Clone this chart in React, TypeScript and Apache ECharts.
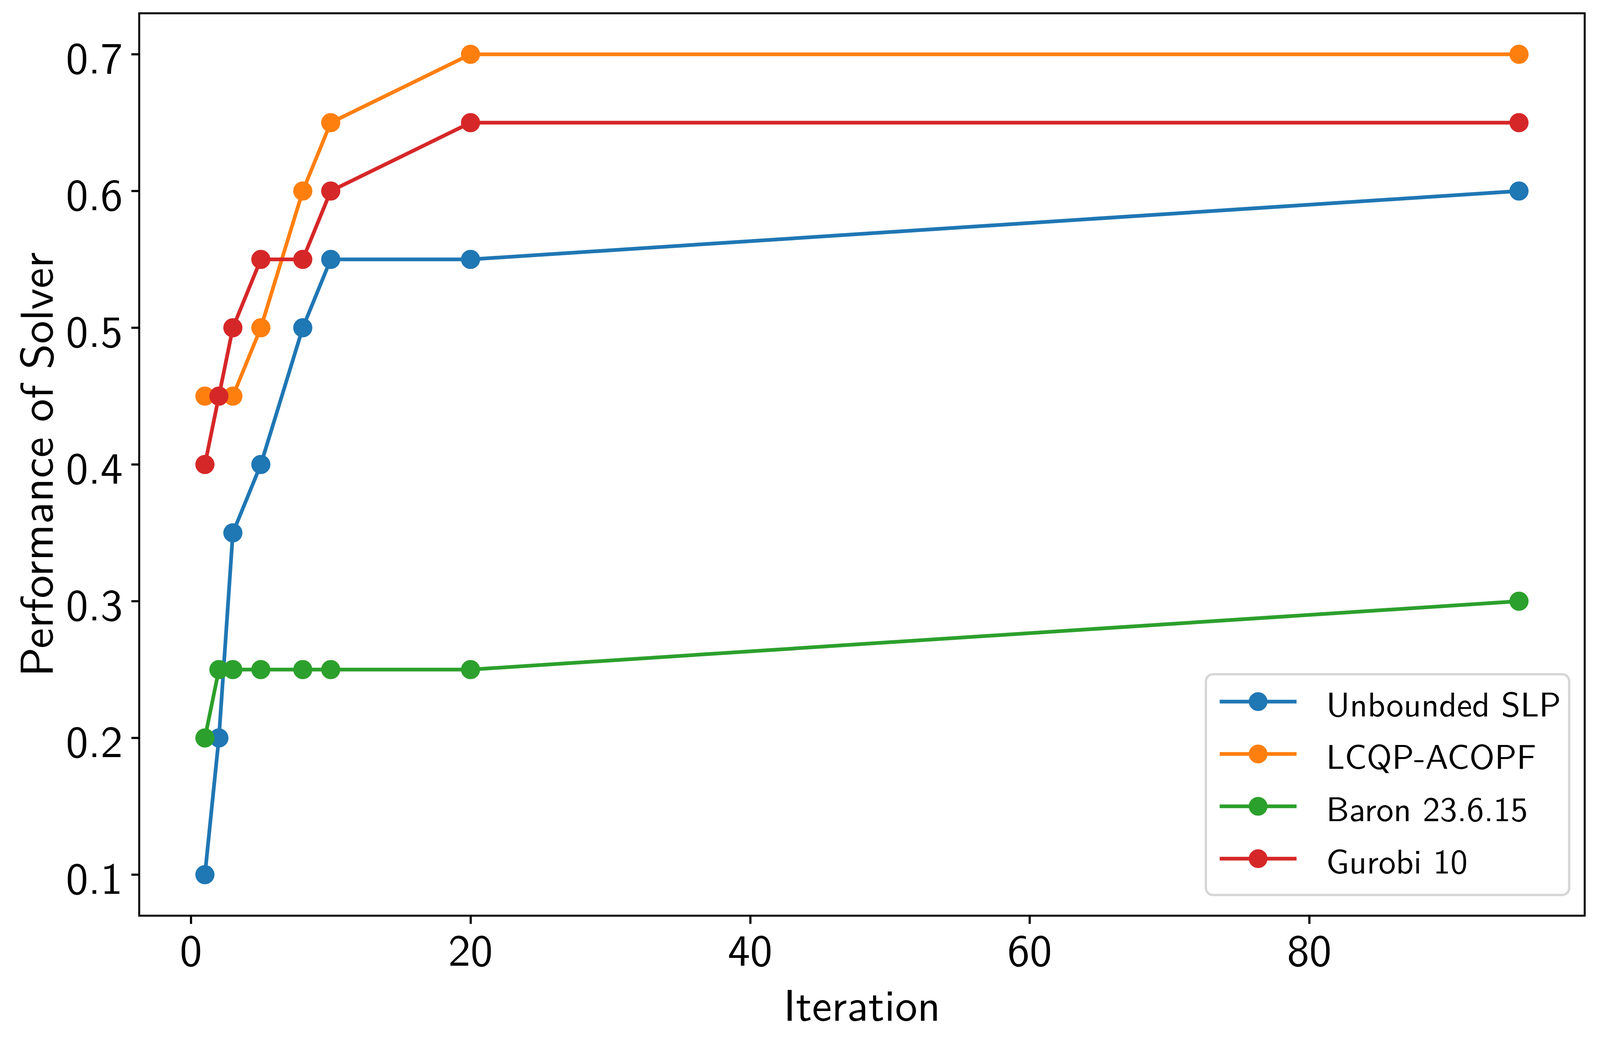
import React, { useEffect, useRef } from "react";
import * as echarts from "echarts";

const iterations = [1, 2, 3, 5, 8, 10, 20, 95];
const seriesNames = ["Unbounded SLP", "LCQP-ACOPF", "Baron 23.6.15", "Gurobi 10"];
const unboundedSLP = [0.1, 0.2, 0.35, 0.4, 0.5, 0.55, 0.55, 0.6];
const lcqpAcopf = [0.45, 0.45, 0.45, 0.5, 0.6, 0.65, 0.7, 0.7];
const baron = [0.2, 0.25, 0.25, 0.25, 0.25, 0.25, 0.25, 0.3];
const gurobi = [0.4, 0.45, 0.5, 0.55, 0.55, 0.6, 0.65, 0.65];
const seriesValues = [unboundedSLP, lcqpAcopf, baron, gurobi];
const colors = ["#1f77b4", "#ff7f0e", "#2ca02c", "#d62728"];
const xTicks = [0, 20, 40, 60, 80];
const yTicks = [0.1, 0.2, 0.3, 0.4, 0.5, 0.6, 0.7];
const xLabel = "Iteration";
const yLabel = "Performance of Solver";

const FONT = "'Latin Modern Sans', 'Liberation Sans', sans-serif";
const REF_W = 4287;
const REF_H = 2675;

export default function App() {
  const ref = useRef<HTMLDivElement>(null);
  useEffect(() => {
    const el = ref.current;
    if (!el) return;
    const W = el.clientWidth || REF_W;
    const H = el.clientHeight || REF_H;
    const sx = W / REF_W;
    const sy = H / REF_H;
    const chart = echarts.init(el, undefined, { renderer: "svg" });
    const tickFont = 114;
    const yNameFont = 118;
    const legendFont = 88;
    const option = {
      animation: false,
      backgroundColor: "#ffffff",
      textStyle: { fontFamily: FONT },
      grid: {
        left: 373 * sx,
        right: 41 * sx,
        top: 34 * sy,
        bottom: 331 * sy,
        show: true,
        borderColor: "#000000",
        borderWidth: 5,
        backgroundColor: "transparent",
        containLabel: false,
      },
      xAxis: {
        type: "value",
        min: -3.7,
        max: 99.7,
        axisLine: { show: false, onZero: false },
        splitLine: { show: false },
        axisTick: {
          show: true,
          customValues: xTicks,
          length: 21 * sy,
          lineStyle: { color: "#000", width: 5.5 },
        },
        axisLabel: {
          customValues: xTicks,
          fontSize: tickFont,
          color: "#000",
          margin: 22 * sy,
          fontFamily: FONT,
        },
        name: xLabel,
        nameLocation: "middle",
        nameGap: 163 * sy,
        nameTextStyle: { fontSize: tickFont, color: "#000", fontFamily: FONT },
      },
      yAxis: {
        type: "value",
        min: 0.07,
        max: 0.73,
        axisLine: { show: false, onZero: false },
        splitLine: { show: false },
        axisTick: {
          show: true,
          customValues: yTicks,
          length: 21 * sx,
          lineStyle: { color: "#000", width: 5.5 },
        },
        axisLabel: {
          customValues: yTicks,
          fontSize: tickFont,
          color: "#000",
          margin: 44 * sx,
          fontFamily: FONT,
          formatter: (v: number) => v.toFixed(1),
        },
        name: yLabel,
        nameLocation: "middle",
        nameRotate: 90,
        nameGap: 222 * sx,
        nameTextStyle: { fontSize: yNameFont, color: "#000", fontFamily: FONT },
      },
      legend: {
        show: true,
        orient: "vertical",
        left: 3231 * sx,
        top: 1726 * sy,
        padding: [26 * sy, 22 * sx, 49 * sy, 32 * sx],
        itemWidth: 206 * sx,
        itemHeight: 60 * sy,
        itemGap: 46 * sy,
        backgroundColor: "rgba(255,255,255,0.8)",
        borderColor: "#d6d6d6",
        borderWidth: 6,
        borderRadius: 18,
        lineStyle: { width: 9.5 },
        textStyle: {
          fontSize: legendFont,
          color: "#000",
          fontFamily: FONT,
          padding: [0, 0, 0, 74 * sx],
        },
        data: seriesNames,
      },
      series: seriesNames.map((name, i) => ({
        name,
        type: "line",
        data: iterations.map((x, j) => [x, seriesValues[i][j]]),
        symbol: "circle",
        symbolSize: 49,
        showSymbol: true,
        showAllSymbol: true,
        color: colors[i],
        lineStyle: { color: colors[i], width: 9.5 },
        itemStyle: { color: colors[i] },
        emphasis: { disabled: true },
        clip: false,
      })),
    };
    chart.setOption(option as any);
    return () => chart.dispose();
  }, []);
  return (
    <div
      ref={ref}
      style={{ position: "absolute", left: 0, top: 0, width: "100vw", height: "100vh", background: "#fff" }}
    />
  );
}
